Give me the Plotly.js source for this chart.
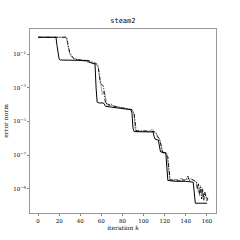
<!DOCTYPE html>
<html>
<head>
<meta charset="utf-8">
<script src="https://cdn.plot.ly/plotly-3.0.1.min.js"></script>
<style>html,body{margin:0;padding:0;background:#fff;}#chart{width:240px;height:240px;}</style>
</head>
<body>
<div id="chart"></div>
<script>
// Series 1: solid
const iterSolid = [0,17,18,19,20,21,30,40,46,48,50,53,54,55,56,58,62,64,70,80,88,89,90,91,100,109,110,111,114,115,116,121,122,123,130,140,147,148,149,155,160];
const logSolid  = [0,0,-0.5,-1.1,-1.3,-1.35,-1.35,-1.36,-1.38,-1.45,-1.5,-1.55,-1.6,-3.0,-3.85,-3.9,-3.9,-4.1,-4.15,-4.25,-4.3,-4.5,-5.4,-5.6,-5.6,-5.62,-5.9,-6.05,-6.1,-6.6,-6.8,-6.85,-8.0,-8.5,-8.55,-8.55,-8.6,-9.3,-9.85,-9.85,-9.85];
// Series 2: dash-dot
const iterDashDot = [0,27,28,29,30,32,33,35,40,48,50,53,56,57,58,59,61,62,63,64,66,67,69,72,80,89,91,92,93,100,110,112,113,115,116,117,118,121,123,124,125,128,131,133,136,138,140,142,143,146,148,150,151,152,153,154,155,156,157,158,159,160,161];
const logDashDot  = [0,0,-0.3,-0.6,-0.9,-1.1,-1.2,-1.3,-1.35,-1.38,-1.45,-1.5,-1.6,-1.7,-2.3,-2.7,-2.85,-2.9,-3.5,-3.95,-3.9,-4.05,-3.95,-4.1,-4.2,-4.3,-4.5,-5.3,-5.55,-5.55,-5.6,-5.7,-5.9,-6.0,-6.3,-6.7,-6.85,-6.9,-7.1,-7.8,-8.45,-8.5,-8.4,-8.55,-8.35,-8.5,-8.45,-8.25,-8.5,-8.45,-8.5,-8.6,-9.0,-8.7,-9.4,-8.9,-9.6,-9.0,-9.7,-9.2,-9.5,-9.7,-9.5];
// Series 3: light line
const iterLight = [0,27,28,30,33,40,55,57,59,60,61,63,64,65,70,80,89,91,92,93,105,107,108,109,112,116,118,122,124,125,135,145,150,152,154,156,158,160];
const logLight  = [0,0,-0.4,-1.0,-1.25,-1.35,-1.6,-1.8,-2.6,-3.0,-3.4,-3.2,-3.7,-4.0,-4.05,-4.2,-4.3,-4.6,-5.4,-5.6,-5.6,-5.5,-5.45,-5.55,-5.7,-6.2,-6.85,-6.9,-8.0,-8.45,-8.5,-8.4,-8.6,-9.2,-8.8,-9.5,-9.2,-9.6];

const yTickVals = [1e-1,1e-3,1e-5,1e-7,1e-9];
const yTickText = ['10<sup>−1</sup>','10<sup>−3</sup>','10<sup>−5</sup>','10<sup>−7</sup>','10<sup>−9</sup>'];
const xTickVals = [0,20,40,60,80,100,120,140,160];

const toVal = a => a.map(v => Math.pow(10, v));

const traces = [
  {x: iterLight, y: toVal(logLight), mode:'lines', line:{color:'#999', width:0.9}},
  {x: iterDashDot, y: toVal(logDashDot), mode:'lines', line:{color:'#000', width:0.9, dash:'4px,1.5px,1px,1.5px'}},
  {x: iterSolid, y: toVal(logSolid), mode:'lines', line:{color:'#000', width:1}}
];

const serif = '"DejaVu Serif", serif';
const layout = {
  width:240, height:240,
  margin:{l:30, r:24, t:29, b:27},
  showlegend:false,
  paper_bgcolor:'#fff', plot_bgcolor:'#fff',
  title:{text:'steam2', font:{family:'"DejaVu Sans Mono", monospace', size:7, color:'#000'}, x:0.512, xanchor:'center', y:0.905, yanchor:'bottom'},
  xaxis:{range:[-7.6,168.6], tickvals:xTickVals, ticks:'outside', ticklen:2, tickwidth:0.6, tickcolor:'#333',
    showgrid:false, zeroline:false, showline:true, mirror:true, linecolor:'#999', linewidth:1,
    tickfont:{family:serif, size:5.5, color:'#000'},
    title:{text:'iteration <i>k</i>', font:{family:serif, size:6, color:'#000'}, standoff:3}},
  yaxis:{type:'log', range:[-10.43,0.49], tickvals:yTickVals, ticktext:yTickText, ticks:'outside', ticklen:2, tickwidth:0.6, tickcolor:'#333',
    showgrid:false, zeroline:false, showline:true, mirror:true, linecolor:'#999', linewidth:1,
    tickfont:{family:serif, size:5.5, color:'#000'},
    title:{text:'error norm', font:{family:serif, size:6, color:'#000'}, standoff:4}}
};
Plotly.newPlot('chart', traces, layout, {staticPlot:true, displayModeBar:false});
</script>
</body>
</html>
